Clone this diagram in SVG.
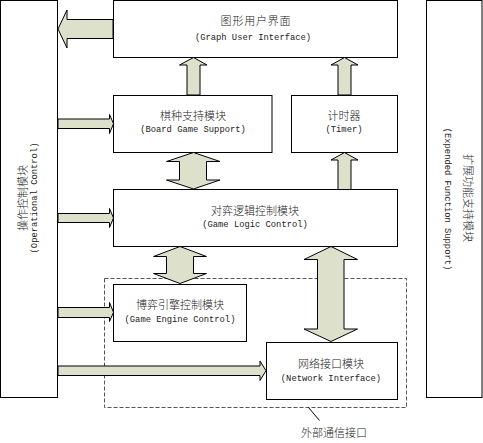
<svg xmlns="http://www.w3.org/2000/svg" width="483" height="443" viewBox="0 0 483 443">
<style>
.box{fill:#fff;stroke:#000;stroke-width:1}
.arr{fill:#dde0cb;stroke:#000;stroke-width:1;stroke-linejoin:miter}
.zh{font-family:"Noto Sans CJK SC",sans-serif;font-size:11px;font-weight:300;fill:#222;text-anchor:middle}
.en{font-family:"Liberation Mono",monospace;font-size:8.8px;fill:#222;text-anchor:middle}
.dash{fill:none;stroke:#555;stroke-width:1;stroke-dasharray:4 2}
</style>
<rect width="483" height="443" fill="#fff"/>
<g id="operational">
<rect class="box" x="0.5" y="0.5" width="57" height="397"/>
<text class="zh" transform="translate(27,198) rotate(-90)">操作控制模块</text>
<text class="en" transform="translate(37,198) rotate(-90)">(Operational Control)</text>
</g>
<g id="expended">
<rect class="box" x="426.5" y="0.5" width="55.5" height="397"/>
<text class="zh" transform="translate(464,198) rotate(90)">扩展功能支持模块</text>
<text class="en" transform="translate(445,199) rotate(90)">(Expended Function Support)</text>
</g>
<g id="gui">
<rect class="box" x="113.5" y="0.5" width="284" height="57"/>
<text class="zh" x="256" y="25" letter-spacing="0.8">图形用户界面</text>
<text class="en" x="253" y="40">(Graph User Interface)</text>
</g>
<g id="board">
<rect class="box" x="113.5" y="95.5" width="158.5" height="57"/>
<text class="zh" x="193" y="120">棋种支持模块</text>
<text class="en" x="193" y="132">(Board Game Support)</text>
</g>
<g id="timer">
<rect class="box" x="291.5" y="95.5" width="106" height="57"/>
<text class="zh" x="344" y="120">计时器</text>
<text class="en" x="344" y="132">(Timer)</text>
</g>
<g id="logic">
<rect class="box" x="113.5" y="189.5" width="284" height="57"/>
<text class="zh" x="255" y="215">对弈逻辑控制模块</text>
<text class="en" x="255" y="227">(Game Logic Control)</text>
</g>
<g id="engine">
<rect class="box" x="113.5" y="284.5" width="133" height="57"/>
<text class="zh" x="180" y="309">博弈引擎控制模块</text>
<text class="en" x="180" y="322">(Game Engine Control)</text>
</g>
<g id="network">
<rect class="box" x="266.5" y="342.5" width="131" height="57"/>
<text class="zh" x="331" y="368">网络接口模块</text>
<text class="en" x="331" y="381">(Network Interface)</text>
</g>
<g id="external">
<rect class="dash" x="104.5" y="278.5" width="302" height="129"/>
<line x1="308.5" y1="407.5" x2="319.5" y2="420.5" stroke="#000" stroke-width="1"/>
<text class="zh" x="334" y="437">外部通信接口</text>
</g>
<g id="connectors">
<polygon class="arr" points="113,19.5 67,19.5 67,10 58,29 67,48 67,38.5 113,38.5"/>
<polygon class="arr" points="187,95 187,65 179.5,65 193.5,57.5 207,65 200,65 200,95"/>
<polygon class="arr" points="338,95 338,65 331,65 344.5,57.5 358,65 351,65 351,95"/>
<polygon class="arr" points="338,189.5 338,160 331,160 344.5,152.5 358,160 351,160 351,189.5"/>
<polygon class="arr" points="193.5,152.5 220,161.5 206.5,161.5 206.5,180 220,180 193.5,189 166.5,180 179.5,180 179.5,161.5 166.5,161.5"/>
<polygon class="arr" points="180,246.5 206.5,256.5 193.5,256.5 193.5,273.5 206.5,273.5 180,283.5 153.5,273.5 166.5,273.5 166.5,256.5 153.5,256.5"/>
<polygon class="arr" points="331,246.5 357.5,259.5 344,259.5 344,329 357.5,329 331,341.5 304,329 317.5,329 317.5,259.5 304,259.5"/>
<polygon class="arr" points="58,119 109.5,119 109.5,114.5 113.5,123.7 109.5,133.5 109.5,128.5 58,128.5"/>
<polygon class="arr" points="58,213.5 109.5,213.5 109.5,208.5 113.5,218 109.5,227.5 109.5,222.5 58,222.5"/>
<polygon class="arr" points="58,307.5 109.5,307.5 109.5,302.5 113.5,312.3 109.5,321.5 109.5,317.5 58,317.5"/>
<polygon class="arr" points="58,366 260,366 260,361 266,370.7 260,380.5 260,375.5 58,375.5"/>
</g>
</svg>
